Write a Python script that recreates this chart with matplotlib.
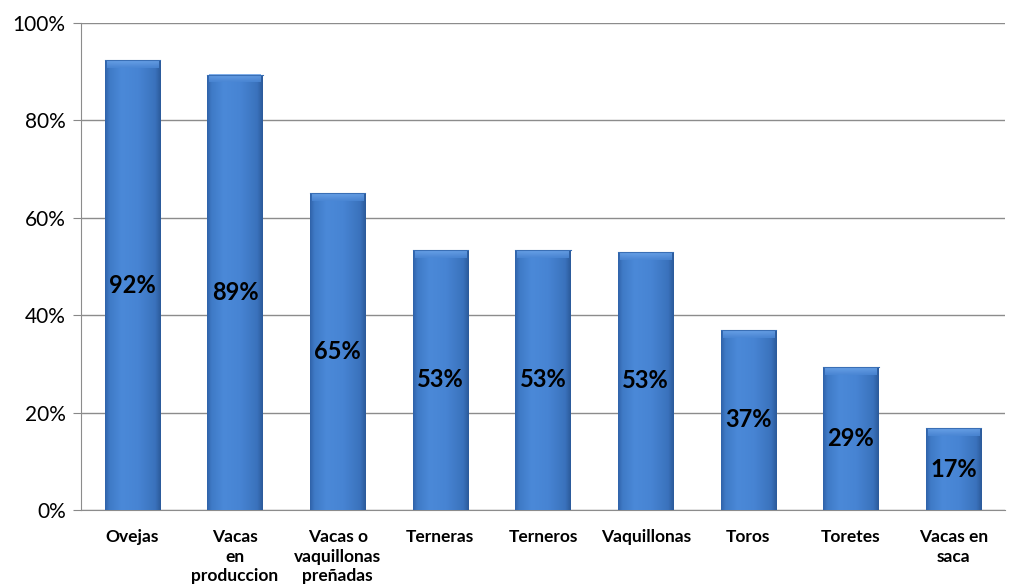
import matplotlib
matplotlib.use("Agg")
import matplotlib.pyplot as plt
import numpy as np
from matplotlib.colors import LinearSegmentedColormap

categories = ["Ovejas", "Vacas\nen\nproduccion", "Vacas o\nvaquillonas\npreñadas", "Terneras",
              "Terneros", "Vaquillonas", "Toros", "Toretes", "Vacas en\nsaca"]
values = [92.4, 89.4, 65.1, 53.4, 53.4, 53.0, 37.0, 29.4, 16.8]
yticks = [0, 20, 40, 60, 80, 100]
ytick_labels = ["0%", "20%", "40%", "60%", "80%", "100%"]

plt.rcParams['font.family'] = ['Lato', 'DejaVu Sans']

fig = plt.figure(figsize=(10.19, 5.88), dpi=100)
ax = fig.add_axes([81/1019, 1-510/588, (1005-81)/1019, (510-23)/588])

x = np.arange(len(categories))
bars = ax.bar(x, values, width=0.54, color="#4a86d4", edgecolor="none", zorder=2)

# horizontal gradient to imitate Excel bevel
grad_cmap = LinearSegmentedColormap.from_list("g", [
    (0.0, "#2f62a8"), (0.08, "#3f7ac6"), (0.3, "#4b89d8"), (0.6, "#4784d3"),
    (0.9, "#3a72bc"), (1.0, "#2b5999")])
g = np.linspace(0, 1, 256).reshape(1, -1)
vg = np.linspace(0, 1, 64).reshape(-1, 1)
top_cmap = LinearSegmentedColormap.from_list("t", [(0, "#6fa6ea"), (1, "#4a86d4")])
for b in bars:
    x0, w, h = b.get_x(), b.get_width(), b.get_height()
    im = ax.imshow(g, cmap=grad_cmap, extent=[x0, x0 + w, 0, h], aspect="auto", zorder=3,
                   interpolation="bicubic")
    im.set_clip_path(b)
    # top bevel highlight
    im2 = ax.imshow(vg, cmap=top_cmap, extent=[x0 + 0.02, x0 + w - 0.02, h - 1.6, h],
                    aspect="auto", zorder=4, alpha=0.85, interpolation="bicubic")
    ax.plot([x0, x0 + w], [h, h], color="#3a6fb5", lw=0.8, zorder=5)

for xi, v in zip(x, values):
    ax.text(xi, v / 2, f"{round(v)}%", ha="center", va="center", fontsize=17,
            fontweight="bold", color="black", zorder=6)

ax.set_xlim(-0.5, len(categories) - 0.5)
ax.set_ylim(0, 100)
ax.set_yticks(yticks)
ax.set_yticklabels(ytick_labels, fontsize=15)
ax.set_xticks(x)
ax.set_xticklabels(categories, fontsize=12.5, fontweight="bold", va="top", linespacing=1.25)
ax.tick_params(axis="x", length=0, pad=14)
ax.tick_params(axis="y", length=6, color="#888888", pad=5)
ax.yaxis.grid(True, color="#8c8c8c", lw=1, zorder=0)
ax.set_axisbelow(True)
for s in ["top", "right"]:
    ax.spines[s].set_visible(False)
ax.spines["left"].set_color("#8c8c8c")
ax.spines["bottom"].set_color("#8c8c8c")

fig.savefig("out.png", dpi=100)
